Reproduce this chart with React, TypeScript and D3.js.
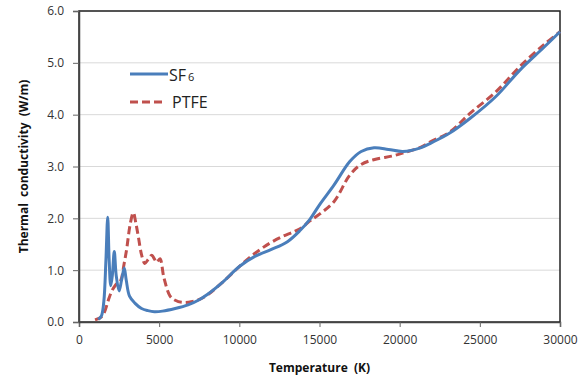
import React, { useEffect, useRef } from "react";
import * as d3 from "d3";

// thermal conductivity (W/m) vs temperature (K)
const sf6Temp = [1200, 1400, 1550, 1680, 1790, 1880, 1980, 2080, 2200, 2320, 2500, 2650, 2820, 2950, 3150, 3500, 3900, 4300, 4700, 5200, 6000, 6800, 7500, 8000, 9000, 10000, 11000, 12000, 13000, 13800, 14400, 15000, 15900, 16900, 17600, 18400, 19300, 20200, 21300, 22000, 23100, 24400, 26000, 27500, 29000, 30000];
const sf6Cond = [0.05, 0.12, 0.4, 1.2, 2.02, 1.2, 0.7, 0.9, 1.36, 0.9, 0.6, 0.8, 1.04, 0.8, 0.5, 0.36, 0.26, 0.22, 0.2, 0.21, 0.26, 0.33, 0.43, 0.53, 0.78, 1.07, 1.27, 1.4, 1.55, 1.77, 1.98, 2.26, 2.64, 3.1, 3.29, 3.36, 3.33, 3.29, 3.36, 3.46, 3.64, 3.93, 4.35, 4.86, 5.3, 5.6];

const ptfeTemp = [1000, 1400, 1600, 1830, 2050, 2250, 2400, 2600, 2800, 2970, 3200, 3390, 3550, 3700, 3900, 4100, 4300, 4530, 4700, 4850, 5050, 5300, 5680, 6000, 6400, 7000, 7550, 8000, 9000, 10000, 11000, 11900, 12700, 13400, 13900, 14400, 15000, 15900, 16900, 17600, 18500, 19500, 20200, 21300, 22000, 23100, 24400, 26000, 27500, 29000, 30000];
const ptfeCond = [0.04, 0.1, 0.2, 0.42, 0.6, 0.7, 0.75, 0.8, 1.1, 1.4, 1.9, 2.11, 1.9, 1.65, 1.3, 1.13, 1.2, 1.29, 1.22, 1.15, 1.22, 0.85, 0.5, 0.42, 0.38, 0.39, 0.44, 0.52, 0.78, 1.07, 1.33, 1.52, 1.65, 1.74, 1.82, 1.95, 2.08, 2.32, 2.84, 3.04, 3.14, 3.2, 3.26, 3.37, 3.49, 3.66, 4.03, 4.44, 4.93, 5.35, 5.6];

const xTicks = [0, 5000, 10000, 15000, 20000, 25000, 30000];
const yTicks = [0, 1, 2, 3, 4, 5, 6];

const width = 588;
const height = 379;
const margin = { top: 11, right: 28, bottom: 57, left: 79 };

const App = () => {
  const svgRef = useRef<SVGSVGElement>(null);

  useEffect(() => {
    const svg = d3.select(svgRef.current);
    svg.selectAll("*").remove();

    const x = d3.scaleLinear().domain([0, 30000]).range([margin.left, width - margin.right]);
    const y = d3.scaleLinear().domain([0, 6]).range([height - margin.bottom, margin.top]);
    const font = "'Open Sans', sans-serif";

    // gridlines
    svg.append("g")
      .selectAll("line")
      .data(yTicks.slice(1))
      .join("line")
      .attr("x1", x(0))
      .attr("x2", x(30000))
      .attr("y1", (d) => y(d))
      .attr("y2", (d) => y(d))
      .attr("stroke", "#d9d9d9")
      .attr("stroke-width", 1);

    // frame
    svg.append("rect")
      .attr("x", x(0))
      .attr("y", y(6))
      .attr("width", x(30000) - x(0))
      .attr("height", y(0) - y(6))
      .attr("fill", "none")
      .attr("stroke", "#222")
      .attr("stroke-width", 1.5);

    const xAxis = d3.axisBottom(x).tickValues(xTicks).tickSize(5).tickPadding(8).tickFormat(d3.format("d"));
    const yAxis = d3.axisLeft(y).tickValues(yTicks).tickSize(6).tickPadding(9).tickFormat(d3.format(".1f"));

    const gx = svg.append("g").attr("transform", `translate(0,${y(0)})`).call(xAxis);
    const gy = svg.append("g").attr("transform", `translate(${x(0)},0)`).call(yAxis);
    [gx, gy].forEach((g) => {
      g.select(".domain").attr("stroke", "#444").attr("stroke-width", 1.5);
      g.selectAll(".tick line").attr("stroke", "#666");
      g.selectAll(".tick text").attr("fill", "#333").style("font-family", font).style("font-size", "12px");
    });

    const line = d3.line<[number, number]>()
      .x((d) => x(d[0]))
      .y((d) => y(d[1]))
      .curve(d3.curveCatmullRom.alpha(0.5));

    svg.append("path")
      .datum(ptfeTemp.map((t, i) => [t, ptfeCond[i]] as [number, number]))
      .attr("d", line)
      .attr("fill", "none")
      .attr("stroke", "#c0504d")
      .attr("stroke-width", 3)
      .attr("stroke-dasharray", "8,4");

    svg.append("path")
      .datum(sf6Temp.map((t, i) => [t, sf6Cond[i]] as [number, number]))
      .attr("d", line)
      .attr("fill", "none")
      .attr("stroke", "#4a7ebb")
      .attr("stroke-width", 3);

    // legend
    svg.append("line").attr("x1", 130).attr("x2", 168).attr("y1", 74).attr("y2", 74)
      .attr("stroke", "#4a7ebb").attr("stroke-width", 3);
    const sfText = svg.append("text").attr("x", 169).attr("y", 81)
      .style("font-family", font).style("font-size", "16px").attr("fill", "#222");
    sfText.append("tspan").text("SF");
    sfText.append("tspan").text("6").attr("dx", 2).style("font-size", "11px");

    svg.append("line").attr("x1", 130).attr("x2", 165).attr("y1", 102).attr("y2", 102)
      .attr("stroke", "#c0504d").attr("stroke-width", 3).attr("stroke-dasharray", "8,4");
    svg.append("text").attr("x", 172).attr("y", 108).text("PTFE")
      .style("font-family", font).style("font-size", "16px").attr("fill", "#222");

    // axis titles
    svg.append("text")
      .attr("x", (x(0) + x(30000)) / 2)
      .attr("y", 372)
      .attr("text-anchor", "middle")
      .style("font-family", font).style("font-size", "12px").style("font-weight", "bold")
      .attr("fill", "#111")
      .attr("xml:space", "preserve")
      .text("Temperature  (K)");

    svg.append("text")
      .attr("transform", `translate(28,${(y(0) + y(6)) / 2}) rotate(-90)`)
      .attr("text-anchor", "middle")
      .style("font-family", font).style("font-size", "12px").style("font-weight", "bold")
      .attr("fill", "#111")
      .attr("xml:space", "preserve")
      .text("Thermal  conductivity  (W/m)");
  }, []);

  return (
    <div style={{ position: "absolute", left: 0, top: 0 }}>
      <svg ref={svgRef} width={width} height={height} style={{ display: "block", background: "#fff" }} />
    </div>
  );
};

export default App;
